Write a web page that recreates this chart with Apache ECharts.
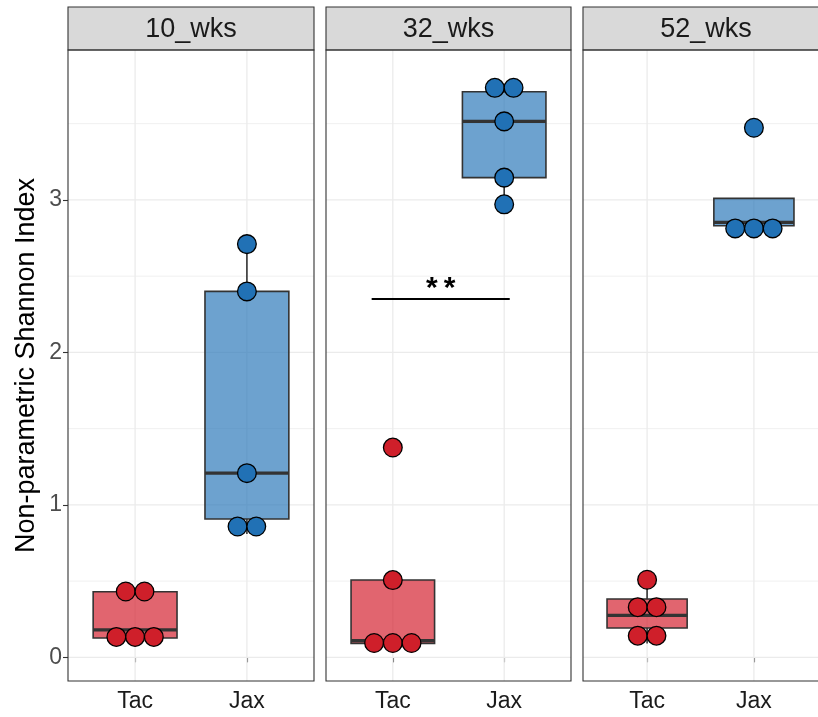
<!DOCTYPE html>
<html>
<head>
<meta charset="utf-8">
<script src="https://cdn.jsdelivr.net/npm/echarts@6/dist/echarts.min.js"></script>
<style>
  html, body { margin: 0; padding: 0; background: #ffffff; }
  #chart { width: 818px; height: 717px; }
</style>
</head>
<body>
<div id="chart"></div>
<script>
// Facets, groups and per-sample diversity values
const panels = ['10_wks', '32_wks', '52_wks'];
const groups = ['Tac', 'Jax'];
const tac10 = [0.088, 0.127, 0.18, 0.43, 0.434];
const jax10 = [0.809, 0.907, 1.208, 2.40, 2.71];
const tac32 = [0.078, 0.092, 0.11, 0.507, 1.376];
const jax32 = [2.971, 3.146, 3.515, 3.709, 3.761];
const tac52 = [0.091, 0.193, 0.275, 0.383, 0.509];
const jax52 = [2.77, 2.85, 2.856, 3.473];
const yTicks = [0, 1, 2, 3];
const yMinor = [0.5, 1.5, 2.5, 3.5];
// Significance bracket in the 32_wks facet
const sigPanel = 1;
const sigLabel = '**';
const sigRange = [0.81, 2.05];
const sigY = 2.35;

const panelData = [[tac10, jax10], [tac32, jax32], [tac52, jax52]];
const dotFill = ['#cf1f2a', '#2171b5'];
const boxFill = ['rgba(212,35,50,0.7)', 'rgba(40,118,184,0.68)'];
const FONT = '"Liberation Sans", Arial, Helvetica, sans-serif';

// layout of the three facets
const gridLeft = [68, 326, 583];
const gridW = [246, 245, 246];
const gridTop = 50, gridH = 631, stripTop = 7;
const yMin = -0.155, yMax = 3.983;

function quantile(s, p) {
  const h = (s.length - 1) * p, lo = Math.floor(h), hi = Math.ceil(h);
  return s[lo] + (h - lo) * (s[hi] - s[lo]);
}
function boxStats(vals) {
  const s = [...vals].sort((a, b) => a - b);
  const q1 = quantile(s, 0.25), med = quantile(s, 0.5), q3 = quantile(s, 0.75);
  const iqr = q3 - q1;
  const inside = s.filter(v => v >= q1 - 1.5 * iqr && v <= q3 + 1.5 * iqr);
  return [Math.min(q1, ...inside), q1, med, q3, Math.max(q3, ...inside)];
}
const allVals = panelData.flat(2);
const binwidth = (Math.max(...allVals) - Math.min(...allVals)) / 30;
// dot-density binning: each bin starts at its first value and spans one binwidth
function dotBins(vals) {
  const s = [...vals].sort((a, b) => a - b);
  const bins = [];
  let end = -Infinity;
  for (const v of s) {
    if (v >= end) { bins.push([]); end = v + binwidth; }
    bins[bins.length - 1].push(v);
  }
  return bins.map(b => ({ center: (b[0] + b[b.length - 1]) / 2, count: b.length }));
}

const grids = [], xAxes = [], yAxes = [], series = [], graphics = [];

panels.forEach((name, i) => {
  grids.push({ left: gridLeft[i], top: gridTop, width: gridW[i], height: gridH, show: false });
  xAxes.push({
    type: 'value', gridIndex: i, min: 0.4, max: 2.6,
    axisLine: { show: false }, splitLine: { show: false },
    axisTick: { show: true, customValues: [1, 2], length: 5, lineStyle: { color: '#333', width: 1.1 } },
    axisLabel: {
      customValues: [1, 2], formatter: v => groups[Math.round(v) - 1] || '',
      fontSize: 23, color: '#1a1a1a', fontFamily: FONT, margin: 9
    }
  });
  const y = {
    type: 'value', gridIndex: i, min: yMin, max: yMax,
    axisLine: { show: false }, splitLine: { show: false },
    axisTick: { show: i === 0, customValues: yTicks, length: 5, lineStyle: { color: '#333', width: 1.1 } },
    axisLabel: { show: i === 0, customValues: yTicks, fontSize: 23, color: '#4d4d4d', fontFamily: FONT, margin: 6 }
  };
  if (i === 0) {
    Object.assign(y, {
      name: 'Non-parametric Shannon Index', nameLocation: 'middle', nameRotate: 90, nameGap: 28,
      nameTextStyle: { fontSize: 27, color: '#000', fontFamily: FONT }
    });
  }
  yAxes.push(y);

  // background grid lines
  const gl = [];
  yMinor.forEach(v => gl.push([1, v, 0, 0]));
  yTicks.forEach(v => gl.push([1, v, 0, 1]));
  [1, 2].forEach(v => gl.push([v, 1, 1, 1]));
  series.push({
    type: 'custom', xAxisIndex: i, yAxisIndex: i, z: 1, silent: true, data: gl,
    renderItem: (params, api) => {
      const cs = params.coordSys;
      const p = api.coord([api.value(0), api.value(1)]);
      const major = api.value(3) === 1;
      const style = { stroke: major ? '#ebebeb' : '#f0f0f0', lineWidth: major ? 1.3 : 1 };
      if (api.value(2) === 0) {
        return { type: 'line', shape: { x1: cs.x, y1: p[1], x2: cs.x + cs.width, y2: p[1] }, style };
      }
      return { type: 'line', shape: { x1: p[0], y1: cs.y, x2: p[0], y2: cs.y + cs.height }, style };
    }
  });

  // box plots
  const boxes = panelData[i].map((vals, g) => [g + 1, ...boxStats(vals), g]);
  series.push({
    type: 'custom', xAxisIndex: i, yAxisIndex: i, z: 2, silent: true, data: boxes,
    renderItem: (params, api) => {
      const x = api.value(0);
      const c = [1, 2, 3, 4, 5].map(k => api.coord([x, api.value(k)]));
      const half = api.size([0.75, 0])[0] / 2;
      const g = api.value(6);
      const cx = c[0][0];
      const stroke = '#333333';
      return {
        type: 'group', children: [
          { type: 'line', shape: { x1: cx, y1: c[1][1], x2: cx, y2: c[0][1] }, style: { stroke, lineWidth: 1.6 } },
          { type: 'line', shape: { x1: cx, y1: c[3][1], x2: cx, y2: c[4][1] }, style: { stroke, lineWidth: 1.6 } },
          { type: 'rect', shape: { x: cx - half, y: c[3][1], width: 2 * half, height: c[1][1] - c[3][1] },
            style: { fill: boxFill[g], stroke, lineWidth: 1.6 } },
          { type: 'line', shape: { x1: cx - half, y1: c[2][1], x2: cx + half, y2: c[2][1] }, style: { stroke, lineWidth: 3.2 } }
        ]
      };
    }
  });

  // stacked, centred dots
  const dots = [];
  panelData[i].forEach((vals, g) => {
    dotBins(vals).forEach(b => {
      for (let k = 0; k < b.count; k++) dots.push([g + 1, b.center, k, b.count, g]);
    });
  });
  series.push({
    type: 'custom', xAxisIndex: i, yAxisIndex: i, z: 3, silent: true, data: dots,
    renderItem: (params, api) => {
      const p = api.coord([api.value(0), api.value(1)]);
      const d = api.size([0, binwidth])[1];
      const off = (api.value(2) - (api.value(3) - 1) / 2) * d;
      return {
        type: 'circle', shape: { cx: p[0] + off, cy: p[1], r: d / 2 },
        style: { fill: dotFill[api.value(4)], stroke: '#000', lineWidth: 1.3 }
      };
    }
  });

  if (i === sigPanel) {
    series.push({
      type: 'custom', xAxisIndex: i, yAxisIndex: i, z: 4, silent: true,
      data: [[sigRange[0], sigY, sigRange[1]]],
      renderItem: (params, api) => {
        const a = api.coord([api.value(0), api.value(1)]);
        const b = api.coord([api.value(2), api.value(1)]);
        return {
          type: 'group', children: [
            { type: 'line', shape: { x1: a[0], y1: a[1], x2: b[0], y2: b[1] }, style: { stroke: '#000', lineWidth: 2 } },
            { type: 'text', x: (a[0] + b[0]) / 2, y: a[1] + 5,
              style: { text: sigLabel.split('').join('\u2009'), fontSize: 30, fontWeight: 'bold', fontFamily: FONT, fill: '#000',
                       align: 'center', verticalAlign: 'bottom' } }
          ]
        };
      }
    });
  }

  // facet strip and panel border
  graphics.push({
    type: 'rect', z: 100, silent: true,
    shape: { x: gridLeft[i], y: stripTop, width: gridW[i], height: gridTop - stripTop },
    style: { fill: '#d9d9d9', stroke: '#333', lineWidth: 1.1 }
  });
  graphics.push({
    type: 'text', z: 101, silent: true,
    x: gridLeft[i] + gridW[i] / 2, y: (stripTop + gridTop) / 2 + 1,
    style: { text: name, fontSize: 27, fill: '#1a1a1a', fontFamily: FONT, align: 'center', verticalAlign: 'middle' }
  });
  graphics.push({
    type: 'rect', z: 100, silent: true,
    shape: { x: gridLeft[i], y: gridTop, width: gridW[i], height: gridH },
    style: { fill: null, stroke: '#333', lineWidth: 1.1 }
  });
});

const chart = echarts.init(document.getElementById('chart'));
chart.setOption({
  animation: false,
  backgroundColor: '#ffffff',
  grid: grids,
  xAxis: xAxes,
  yAxis: yAxes,
  series: series,
  graphic: graphics
});
</script>
</body>
</html>
